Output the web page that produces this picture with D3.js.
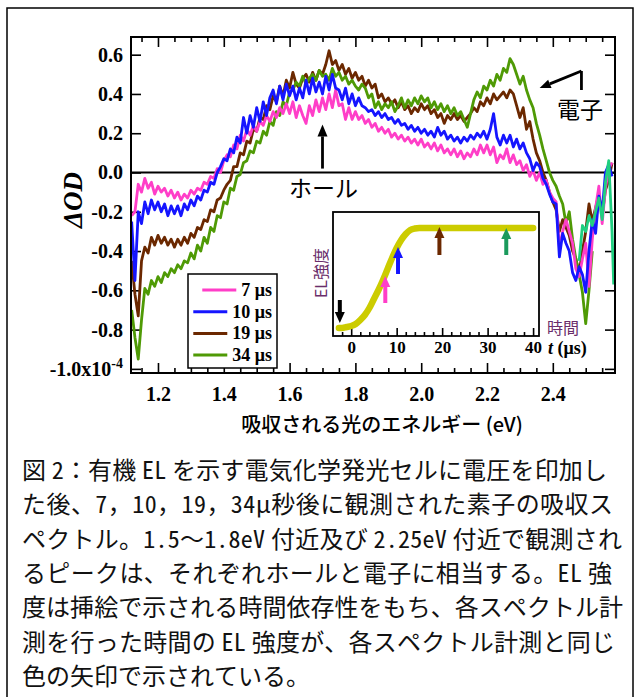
<!DOCTYPE html>
<html><head><meta charset="utf-8">
<script src="https://cdn.jsdelivr.net/npm/d3@7"></script>
<style>body{margin:0;background:#fff}svg{display:block}</style>
</head><body>
<svg id="c" width="640" height="697"></svg>
<script>
// ---------------- DATA ----------------
const seriesNames = ["7 μs", "10 μs", "19 μs", "34 μs"];
const seriesColors = ["#ff3ec8", "#1515ff", "#6b2800", "#4f9a05"];
// energy grid 1.12 .. 2.58 eV, step 0.01
const energy = d3.range(147).map(i => +(1.12 + i * 0.01).toFixed(2));

const od7 = [-0.22,-0.20,-0.06,-0.10,-0.03,-0.08,-0.05,-0.11,-0.07,-0.10,
 -0.08,-0.12,-0.09,-0.13,-0.10,-0.14,-0.11,-0.13,-0.09,-0.11,
 -0.08,-0.09,-0.05,-0.06,-0.02,-0.03,0.02,0.00,0.06,0.09,
 0.08,0.14,0.12,0.19,0.16,0.22,0.19,0.24,0.21,0.26,
 0.24,0.29,0.26,0.31,0.28,0.33,0.30,0.35,0.30,0.36,
 0.28,0.34,0.29,0.25,0.34,0.29,0.37,0.31,0.38,0.32,
 0.40,0.33,0.42,0.34,0.35,0.27,0.33,0.27,0.31,0.27,
 0.29,0.25,0.27,0.23,0.25,0.21,0.23,0.20,0.22,0.18,
 0.20,0.17,0.19,0.16,0.18,0.15,0.17,0.14,0.17,0.13,
 0.15,0.12,0.15,0.11,0.14,0.10,0.12,0.09,0.12,0.08,
 0.11,0.07,0.10,0.08,0.12,0.09,0.14,0.10,0.14,0.09,
 0.13,0.05,0.09,0.07,0.12,0.05,0.09,0.04,0.06,0.01,
 0.04,-0.02,0.01,-0.04,0.00,-0.06,-0.04,-0.10,-0.13,-0.15,
 -0.38,-0.30,-0.24,-0.30,-0.36,-0.49,-0.53,-0.44,-0.36,-0.58,
 -0.34,-0.18,-0.07,-0.26,-0.08,0.02,0.05];

const od10 = [-0.25,-0.55,-0.20,-0.26,-0.15,-0.21,-0.14,-0.19,-0.15,-0.20,
 -0.16,-0.22,-0.17,-0.21,-0.17,-0.22,-0.16,-0.19,-0.14,-0.17,
 -0.12,-0.14,-0.09,-0.10,-0.05,-0.06,0.00,0.03,0.07,0.06,
 0.12,0.10,0.18,0.15,0.28,0.20,0.29,0.23,0.33,0.26,
 0.36,0.29,0.38,0.42,0.35,0.44,0.37,0.45,0.39,0.44,
 0.37,0.43,0.38,0.47,0.40,0.48,0.41,0.46,0.40,0.49,
 0.42,0.50,0.43,0.42,0.37,0.43,0.35,0.40,0.34,0.38,
 0.34,0.33,0.31,0.32,0.29,0.31,0.28,0.30,0.27,0.28,
 0.25,0.27,0.24,0.25,0.22,0.24,0.21,0.23,0.20,0.22,
 0.19,0.21,0.18,0.23,0.19,0.21,0.17,0.19,0.16,0.18,
 0.15,0.18,0.16,0.19,0.17,0.20,0.18,0.21,0.17,0.22,
 0.30,0.18,0.14,0.19,0.15,0.19,0.13,0.17,0.12,0.15,
 0.10,0.07,0.01,0.05,0.03,-0.03,-0.06,-0.11,-0.15,-0.16,
 -0.43,-0.31,-0.36,-0.40,-0.51,-0.55,-0.48,-0.52,-0.61,-0.40,
 -0.24,-0.31,-0.12,-0.20,0.00,0.04,-0.02];

const od19 = [-0.45,-0.62,-0.73,-0.45,-0.38,-0.41,-0.33,-0.37,-0.32,-0.36,
 -0.33,-0.37,-0.34,-0.38,-0.34,-0.37,-0.33,-0.36,-0.31,-0.33,
 -0.28,-0.29,-0.24,-0.25,-0.19,-0.20,-0.14,-0.13,-0.09,-0.06,
 -0.04,0.03,0.03,0.10,0.09,0.16,0.15,0.22,0.21,0.28,
 0.27,0.34,0.32,0.39,0.36,0.44,0.39,0.47,0.43,0.51,
 0.45,0.43,0.48,0.50,0.46,0.51,0.47,0.52,0.50,0.55,
 0.62,0.55,0.57,0.52,0.55,0.50,0.53,0.48,0.51,0.47,
 0.49,0.44,0.47,0.43,0.45,0.38,0.40,0.36,0.38,0.35,
 0.37,0.33,0.36,0.32,0.34,0.30,0.33,0.31,0.35,0.32,
 0.34,0.30,0.32,0.28,0.30,0.25,0.29,0.27,0.30,0.27,
 0.29,0.26,0.28,0.30,0.33,0.31,0.36,0.34,0.38,0.35,
 0.40,0.37,0.39,0.41,0.38,0.42,0.40,0.34,0.28,0.33,
 0.22,0.26,0.17,0.10,0.06,0.00,-0.04,-0.10,-0.15,-0.19,
 -0.30,-0.24,-0.28,-0.32,-0.40,-0.44,-0.51,-0.40,-0.30,-0.16,
 -0.25,-0.18,-0.11,-0.22,-0.09,-0.04,0.05];

const od34 = [-0.70,-0.84,-0.95,-0.75,-0.59,-0.62,-0.55,-0.58,-0.53,-0.56,
 -0.51,-0.53,-0.49,-0.51,-0.47,-0.49,-0.45,-0.46,-0.41,-0.44,
 -0.37,-0.40,-0.33,-0.36,-0.28,-0.30,-0.22,-0.23,-0.15,-0.16,
 -0.08,-0.09,-0.02,-0.01,0.05,0.06,0.11,0.10,0.16,0.15,
 0.21,0.19,0.26,0.24,0.31,0.29,0.36,0.34,0.41,0.42,
 0.46,0.44,0.49,0.45,0.48,0.50,0.47,0.52,0.49,0.50,
 0.47,0.53,0.49,0.51,0.47,0.49,0.45,0.47,0.44,0.42,
 0.45,0.43,0.38,0.40,0.33,0.36,0.32,0.35,0.33,0.36,
 0.31,0.34,0.38,0.33,0.37,0.34,0.38,0.35,0.39,0.36,
 0.38,0.33,0.36,0.32,0.35,0.31,0.34,0.30,0.33,0.29,
 0.31,0.27,0.23,0.30,0.37,0.41,0.38,0.44,0.42,0.47,
 0.44,0.50,0.47,0.53,0.51,0.58,0.55,0.50,0.45,0.49,
 0.42,0.37,0.33,0.25,0.19,0.12,0.06,0.00,-0.04,-0.07,
 -0.12,-0.16,-0.26,-0.20,-0.34,-0.44,-0.52,-0.61,-0.77,-0.60,
 -0.40];

// high-energy tail drawn in a separate green
const tailEnergy = [2.48,2.49,2.50,2.51,2.52,2.53,2.54,2.55,2.56,2.57,2.58,2.585];
const tailOD = [-0.45,-0.27,-0.30,-0.22,-0.27,-0.20,-0.13,-0.24,-0.05,0.06,-0.30,-0.57];
const tailColor = "#1fcf80";

const xTicks = [1.2,1.4,1.6,1.8,2.0,2.2,2.4];
const yTicks = [-1.0,-0.8,-0.6,-0.4,-0.2,0.0,0.2,0.4,0.6];

// inset: EL intensity vs time
const elTime = [-2.7,-2,-1,0,1,2,3,4,5,6,7,8,9,10,11,12,13,14,15,17,20,30,40];
const elIntensity = [0.0,0.0,0.01,0.02,0.04,0.08,0.13,0.20,0.29,0.38,0.48,0.59,0.70,0.80,0.88,0.94,0.98,0.995,1.0,1.0,1.0,1.0,1.0];
const insetTicks = [0,10,20,30,40];
const arrowTime = [-2.5,7.5,10.3,19.4,34.1];
const arrowFrom = [0.28,0.25,0.54,0.73,0.73];
const arrowTo = [0.05,0.52,0.81,1.01,1.0];
const arrowColors = ["#000000","#ff3ec8","#1515ff","#6b2800","#1a9a5c"];

const captionLines = [
 "図 2：有機 EL を示す電気化学発光セルに電圧を印加し",
 "た後、7，10，19，34μ秒後に観測された素子の吸収ス",
 "ペクトル。1.5～1.8eV 付近及び 2.25eV 付近で観測され",
 "るピークは、それぞれホールと電子に相当する。EL 強",
 "度は挿絵で示される時間依存性をもち、各スペクトル計",
 "測を行った時間の EL 強度が、各スペクトル計測と同じ",
 "色の矢印で示されている。"
];
const captionRight = [607, 613, 622, 612, 623, 615, null];

// ---------------- FONTS ----------------
const SERIF = "\"Liberation Serif\", \"Times New Roman\", serif";
const JP = "\"Noto Sans CJK JP\", \"Noto Sans\", sans-serif";
const JPMONO = "\"Noto Sans Mono CJK JP\", \"Noto Sans CJK JP\", sans-serif";

// ---------------- DRAW ----------------
const svg = d3.select("#c");

svg.append("rect").attr("x",7).attr("y",8).attr("width",626).attr("height",720)
  .attr("fill","none").attr("stroke","#000").attr("stroke-width",1.5);

const M = {left:131, right:615, top:37, bottom:373};
const x = d3.scaleLinear().domain([1.118, 2.589]).range([M.left, M.right]);
const y = d3.scaleLinear().domain([-1.021, 0.69]).range([M.bottom, M.top]);

const minorX = d3.range(23, 52).map(i => +(i*0.05).toFixed(2)).filter(v => !xTicks.some(t => Math.abs(t-v)<1e-6));

function styleAxis(g, size) {
  g.select(".domain").remove();
  g.selectAll("line").attr("stroke","#000").attr("stroke-width",1.6);
  g.attr("font-family", null).attr("font-size", null);
  g.selectAll("text").attr("fill","#000").style("font-family", SERIF)
    .style("font-size", size + "px").style("font-weight","bold");
}

svg.append("g").attr("transform",`translate(0,${M.bottom})`)
  .call(d3.axisBottom(x).tickValues(xTicks).tickSize(-10).tickPadding(14).tickFormat(d=>d.toFixed(1)))
  .call(g=>styleAxis(g,20));
svg.append("g").attr("transform",`translate(0,${M.bottom})`)
  .call(d3.axisBottom(x).tickValues(minorX).tickSize(-5).tickFormat(""))
  .call(g=>styleAxis(g,20));
svg.append("g").attr("transform",`translate(0,${M.top})`)
  .call(d3.axisTop(x).tickValues(xTicks).tickSize(-10).tickFormat(""))
  .call(g=>styleAxis(g,20));
svg.append("g").attr("transform",`translate(0,${M.top})`)
  .call(d3.axisTop(x).tickValues(minorX).tickSize(-5).tickFormat(""))
  .call(g=>styleAxis(g,20));
const gy = svg.append("g").attr("transform",`translate(${M.left},0)`)
  .call(d3.axisLeft(y).tickValues(yTicks).tickSize(-10).tickPadding(8).tickFormat(d=>d.toFixed(1)))
  .call(g=>styleAxis(g,20));
gy.selectAll(".tick text").filter(d=>d===-1.0).each(function(){
  const t = d3.select(this); t.text("-1.0x10");
  t.append("tspan").attr("dy",-8).style("font-size","14px").text("-4");
});
svg.append("g").attr("transform",`translate(${M.right},0)`)
  .call(d3.axisRight(y).tickValues(yTicks).tickSize(-10).tickFormat(""))
  .call(g=>styleAxis(g,20));

svg.append("line").attr("x1",M.left).attr("x2",M.right).attr("y1",y(0)).attr("y2",y(0))
  .attr("stroke","#000").attr("stroke-width",2);

const line = d3.line().x((d,i)=>x(energy[i])).y(d=>y(d));
const order = [2,3,0,1];
const seriesData = [od7, od10, od19, od34];
order.forEach(k=>{
  svg.append("path").datum(seriesData[k]).attr("d",line).attr("fill","none")
    .attr("stroke",seriesColors[k]).attr("stroke-width",2.8).attr("stroke-linejoin","round");
});
svg.append("path").datum(tailOD)
  .attr("d", d3.line().x((d,i)=>x(tailEnergy[i])).y(d=>y(d)))
  .attr("fill","none").attr("stroke",tailColor).attr("stroke-width",2.8).attr("stroke-linejoin","round");

svg.append("rect").attr("x",M.left).attr("y",M.top).attr("width",M.right-M.left).attr("height",M.bottom-M.top)
  .attr("fill","none").attr("stroke","#000").attr("stroke-width",2);

svg.append("text").attr("transform","translate(82,200) rotate(-90)").attr("text-anchor","middle")
  .style("font-family",SERIF).style("font-style","italic").style("font-weight","bold").style("font-size","27px")
  .text("ΔOD");
svg.append("text").attr("x",382).attr("y",432).attr("text-anchor","middle")
  .style("font-family",JP).style("font-weight","500").style("font-size","20px")
  .text("吸収される光のエネルギー (eV)");

function arrow(g, x1, y1, x2, y2, w, hl, hw, color) {
  const ang = Math.atan2(y2-y1, x2-x1);
  const bx = x2 - hl*Math.cos(ang), by = y2 - hl*Math.sin(ang);
  g.append("line").attr("x1",x1).attr("y1",y1).attr("x2",bx).attr("y2",by)
    .attr("stroke",color).attr("stroke-width",w);
  const px = -Math.sin(ang)*hw/2, py = Math.cos(ang)*hw/2;
  g.append("path").attr("d",`M${x2},${y2}L${bx+px},${by+py}L${bx-px},${by-py}Z`).attr("fill",color);
}
const ann = svg.append("g");
arrow(ann, x(1.7), y(0.02), x(1.7), y(0.245), 2.8, 12, 10, "#000");
ann.append("text").attr("x",x(1.7)+1).attr("y",y(-0.125)).attr("text-anchor","middle")
  .style("font-family",JP).style("font-size","23px").text("ホール");
ann.append("line").attr("x1",x(2.487)).attr("x2",x(2.487)).attr("y1",y(0.517)).attr("y2",y(0.42))
  .attr("stroke","#000").attr("stroke-width",2.8);
arrow(ann, x(2.487), y(0.517), x(2.36), y(0.43), 2.8, 11, 9, "#000");
ann.append("text").attr("x",x(2.483)).attr("y",y(0.278)).attr("text-anchor","middle")
  .style("font-family",JP).style("font-size","23px").text("電子");

const lg = svg.append("g");
lg.append("rect").attr("x",188).attr("y",274).attr("width",89).attr("height",94)
  .attr("fill","#fff").attr("stroke","#000").attr("stroke-width",1.5);
seriesNames.forEach((n,i)=>{
  const cy = 290 + i*21.7;
  const t = lg.append("text").attr("x",272).attr("y",cy+6).attr("text-anchor","end")
    .style("font-family",SERIF).style("font-weight","bold").style("font-size","18px").text(n);
  const tw = t.node().getComputedTextLength();
  const x2 = 272 - tw - 5;
  lg.append("line").attr("x1",x2-34).attr("x2",x2).attr("y1",cy).attr("y2",cy)
    .attr("stroke",seriesColors[i]).attr("stroke-width",3);
});

const IN = {left:333, right:539, top:212, bottom:336};
const ix = d3.scaleLinear().domain([-4, 41.3]).range([IN.left, IN.right]);
const iy = d3.scaleLinear().domain([0,1]).range([328, 228]);
const ig = svg.append("g");
ig.append("rect").attr("x",IN.left).attr("y",IN.top).attr("width",IN.right-IN.left).attr("height",IN.bottom-IN.top)
  .attr("fill","#fff").attr("stroke","#000").attr("stroke-width",1.8);
const iMinor = d3.range(-1, 21).map(i=>i*2).filter(v=>v%10!==0);
ig.append("g").attr("transform",`translate(0,${IN.bottom})`)
  .call(d3.axisBottom(ix).tickValues(insetTicks).tickSize(-8).tickPadding(5))
  .call(g=>styleAxis(g,17));
ig.append("g").attr("transform",`translate(0,${IN.bottom})`)
  .call(d3.axisBottom(ix).tickValues(iMinor).tickSize(-4).tickFormat(""))
  .call(g=>styleAxis(g,17));
ig.append("path").datum(elIntensity)
  .attr("d", d3.line().curve(d3.curveMonotoneX).x((d,i)=>ix(elTime[i])).y(d=>iy(d)))
  .attr("fill","none").attr("stroke","#cccc00").attr("stroke-width",6.5).attr("stroke-linecap","round");
arrowTime.forEach((t,i)=>{
  arrow(ig, ix(t), iy(arrowFrom[i]), ix(t), iy(arrowTo[i]), 4, 11, 10, arrowColors[i]);
});
ig.append("text").attr("transform","translate(327,273) rotate(-90)").attr("text-anchor","middle")
  .style("font-family",JP).style("font-size","16px").attr("fill","#6a2d6a").text("EL強度");
ig.append("text").attr("x",547).attr("y",334).style("font-family",JP).style("font-size","16px")
  .attr("fill","#6a2d6a").text("時間");
const tl = ig.append("text").attr("x",548).attr("y",354).style("font-family",SERIF).style("font-weight","bold").style("font-size","18px");
tl.append("tspan").style("font-style","italic").text("t");
tl.append("tspan").text(" (μs)");

const cap = svg.append("g");
captionLines.forEach((s,i)=>{
  const t = cap.append("text").attr("x",22).attr("y",479 + i*34.3)
    .style("font-family",JPMONO).style("font-size","24px").style("white-space","pre").attr("fill","#111");
  s.split(" ").forEach((part,j)=>{
    if (j>0) t.append("tspan").style("font-family",JP).text(" ");
    t.append("tspan").text(part);
  });
  if (captionRight[i]) t.attr("textLength", captionRight[i]-22).attr("lengthAdjust","spacing");
});
</script>
</body></html>
